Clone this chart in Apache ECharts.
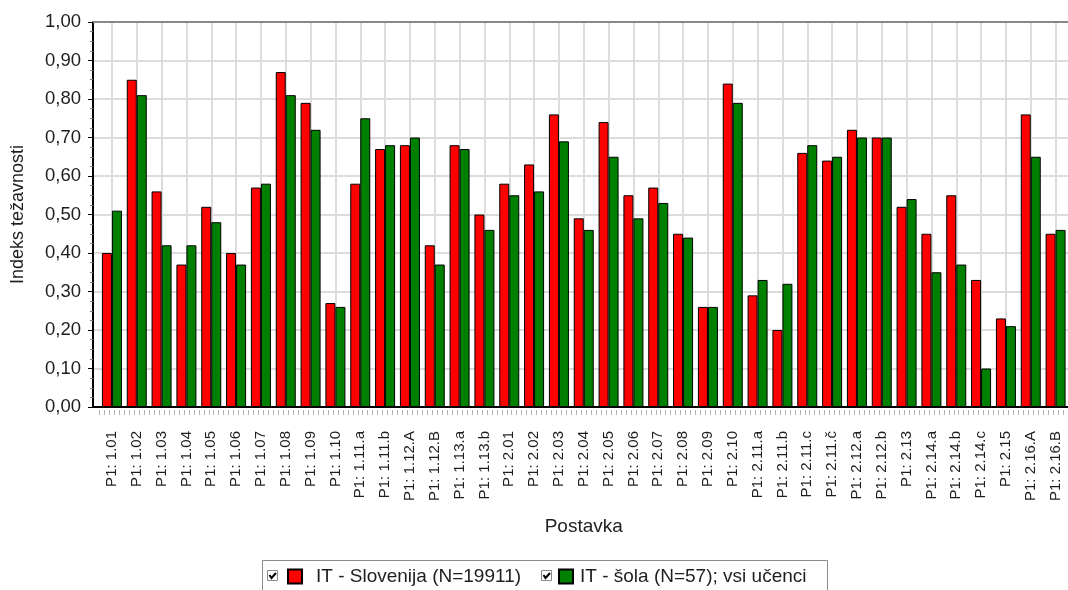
<!DOCTYPE html>
<html>
<head>
<meta charset="utf-8">
<script src="https://cdn.jsdelivr.net/npm/echarts@6/dist/echarts.min.js"></script>
<style>
  html, body { margin: 0; padding: 0; background: #fff; }
  #chart { width: 1068px; height: 590px; }
</style>
</head>
<body>
<div id="chart"></div>
<script>
    'use strict';

    var categories = ['P1: 1.01', 'P1: 1.02', 'P1: 1.03', 'P1: 1.04', 'P1: 1.05', 'P1: 1.06', 'P1: 1.07',
        'P1: 1.08', 'P1: 1.09', 'P1: 1.10', 'P1: 1.11.a', 'P1: 1.11.b', 'P1: 1.12.A', 'P1: 1.12.B',
        'P1: 1.13.a', 'P1: 1.13.b', 'P1: 2.01', 'P1: 2.02', 'P1: 2.03', 'P1: 2.04', 'P1: 2.05',
        'P1: 2.06', 'P1: 2.07', 'P1: 2.08', 'P1: 2.09', 'P1: 2.10', 'P1: 2.11.a', 'P1: 2.11.b',
        'P1: 2.11.c', 'P1: 2.11.č', 'P1: 2.12.a', 'P1: 2.12.b', 'P1: 2.13', 'P1: 2.14.a',
        'P1: 2.14.b', 'P1: 2.14.c', 'P1: 2.15', 'P1: 2.16.A', 'P1: 2.16.B'];

    var slovenija = [0.40, 0.85, 0.56, 0.37, 0.52, 0.40, 0.57, 0.87, 0.79, 0.27, 0.58, 0.67, 0.68, 0.42,
        0.68, 0.50, 0.58, 0.63, 0.76, 0.49, 0.74, 0.55, 0.57, 0.45, 0.26, 0.84, 0.29, 0.20,
        0.66, 0.64, 0.72, 0.70, 0.52, 0.45, 0.55, 0.33, 0.23, 0.76, 0.45];

    var sola = [0.51, 0.81, 0.42, 0.42, 0.48, 0.37, 0.58, 0.81, 0.72, 0.26, 0.75, 0.68, 0.70, 0.37,
        0.67, 0.46, 0.55, 0.56, 0.69, 0.46, 0.65, 0.49, 0.53, 0.44, 0.26, 0.79, 0.33, 0.32,
        0.68, 0.65, 0.70, 0.70, 0.54, 0.35, 0.37, 0.10, 0.21, 0.65, 0.46];

    var seriesNames = ['IT - Slovenija (N=19911)', 'IT - šola (N=57); vsi učenci'];

    var font = 'Liberation Sans, Arial, sans-serif';
    var textColor = '#1e1e1e';

    function comma(v) {
        return v.toFixed(2).replace('.', ',');
    }

    // kvadratek s kljukico pred legendo
    function checkbox(x, y) {
        return {
            type: 'group', left: x, top: y,
            children: [
                {type: 'rect', shape: {x: 0, y: 0, width: 10, height: 10},
                    style: {fill: '#fff', stroke: '#8a8a8a', lineWidth: 1}},
                {type: 'polyline', shape: {points: [[2, 4.5], [4, 7.5], [8.5, 2.5]]},
                    style: {fill: null, stroke: '#000', lineWidth: 2}}
            ]
        };
    }

    var myChart = echarts.init(document.getElementById('chart'));

    var option = {
        animation: false,
        backgroundColor: '#fff',
        textStyle: {fontFamily: font, color: textColor},
        grid: [
            {left: 93, top: 22, bottom: 183, right: -20},
            {left: 99.5, top: 22, bottom: 183, width: 975}
        ],
        xAxis: [
            {
                gridIndex: 0, type: 'value', position: 'bottom', min: 0, max: 1, z: 5,
                axisLine: {show: true, lineStyle: {color: '#000', width: 2}},
                axisTick: {show: false}, axisLabel: {show: false}, splitLine: {show: false}
            },
            {
                gridIndex: 0, type: 'value', position: 'top', min: 0, max: 1,
                axisLine: {show: true, lineStyle: {color: '#888', width: 2}},
                axisTick: {show: false}, axisLabel: {show: false}, splitLine: {show: false}
            },
            {
                gridIndex: 1, type: 'category', position: 'bottom', data: categories,
                axisLine: {show: false}, axisTick: {show: false},
                axisLabel: {
                    interval: 0, rotate: 90, margin: 24,
                    fontFamily: font, fontSize: 15, color: textColor
                },
                splitLine: {show: true, alignWithLabel: true, interval: 0, lineStyle: {color: '#dcdcdc', width: 2}},
                name: 'Postavka', nameLocation: 'middle', nameGap: 110,
                nameTextStyle: {fontFamily: font, fontSize: 19, color: textColor}
            },
            {
                gridIndex: 1, type: 'value', position: 'bottom', min: 0, max: 39, interval: 0.2, offset: 3,
                axisLine: {show: false}, axisLabel: {show: false}, splitLine: {show: false},
                axisTick: {show: true, length: 5, lineStyle: {color: '#b4b4b4', width: 1}}
            }
        ],
        yAxis: [
            {
                gridIndex: 0, type: 'value', min: 0, max: 1, interval: 0.1,
                axisLine: {show: true, lineStyle: {color: '#000', width: 2}},
                axisTick: {show: true, length: 5, lineStyle: {color: '#000', width: 1}},
                minorTick: {show: true, splitNumber: 4, length: 3, lineStyle: {color: '#777', width: 1}},
                axisLabel: {
                    margin: 12, formatter: comma,
                    fontFamily: font, fontSize: 18.5, color: textColor
                },
                splitLine: {show: true, lineStyle: {color: '#dcdcdc', width: 2}},
                name: 'Indeks težavnosti', nameLocation: 'middle', nameGap: 66,
                nameTextStyle: {fontFamily: font, fontSize: 18, color: textColor}
            },
            {gridIndex: 1, type: 'value', min: 0, max: 1, show: false}
        ],
        legend: [
            {
                data: [seriesNames[0]], left: 287, top: 567, padding: 0,
                itemWidth: 14, itemHeight: 14, icon: 'rect', selectedMode: false,
                textStyle: {fontFamily: font, fontSize: 19, color: textColor, padding: [0, 0, 0, 9]}
            },
            {
                data: [seriesNames[1]], left: 558, top: 567, padding: 0,
                itemWidth: 14, itemHeight: 14, icon: 'rect', selectedMode: false,
                textStyle: {fontFamily: font, fontSize: 19, color: textColor, padding: [0, 0, 0, 2]}
            }
        ],
        graphic: [
            {type: 'rect', left: 262, top: 560, shape: {x: 0, y: 0, width: 565, height: 40},
                style: {fill: '#fff', stroke: '#8c8c8c', lineWidth: 1}, z: -1},
            checkbox(267, 570),
            checkbox(541, 570)
        ],
        series: [
            {
                name: seriesNames[0], type: 'bar', xAxisIndex: 2, yAxisIndex: 1,
                data: slovenija, barWidth: 10, barGap: 0,
                itemStyle: {color: '#ff0000', borderColor: '#000', borderWidth: 1}
            },
            {
                name: seriesNames[1], type: 'bar', xAxisIndex: 2, yAxisIndex: 1,
                data: sola, barWidth: 10, barGap: 0,
                itemStyle: {color: '#008000', borderColor: '#000', borderWidth: 1}
            }
        ]
    };

    myChart.setOption(option);
</script>
</body>
</html>
